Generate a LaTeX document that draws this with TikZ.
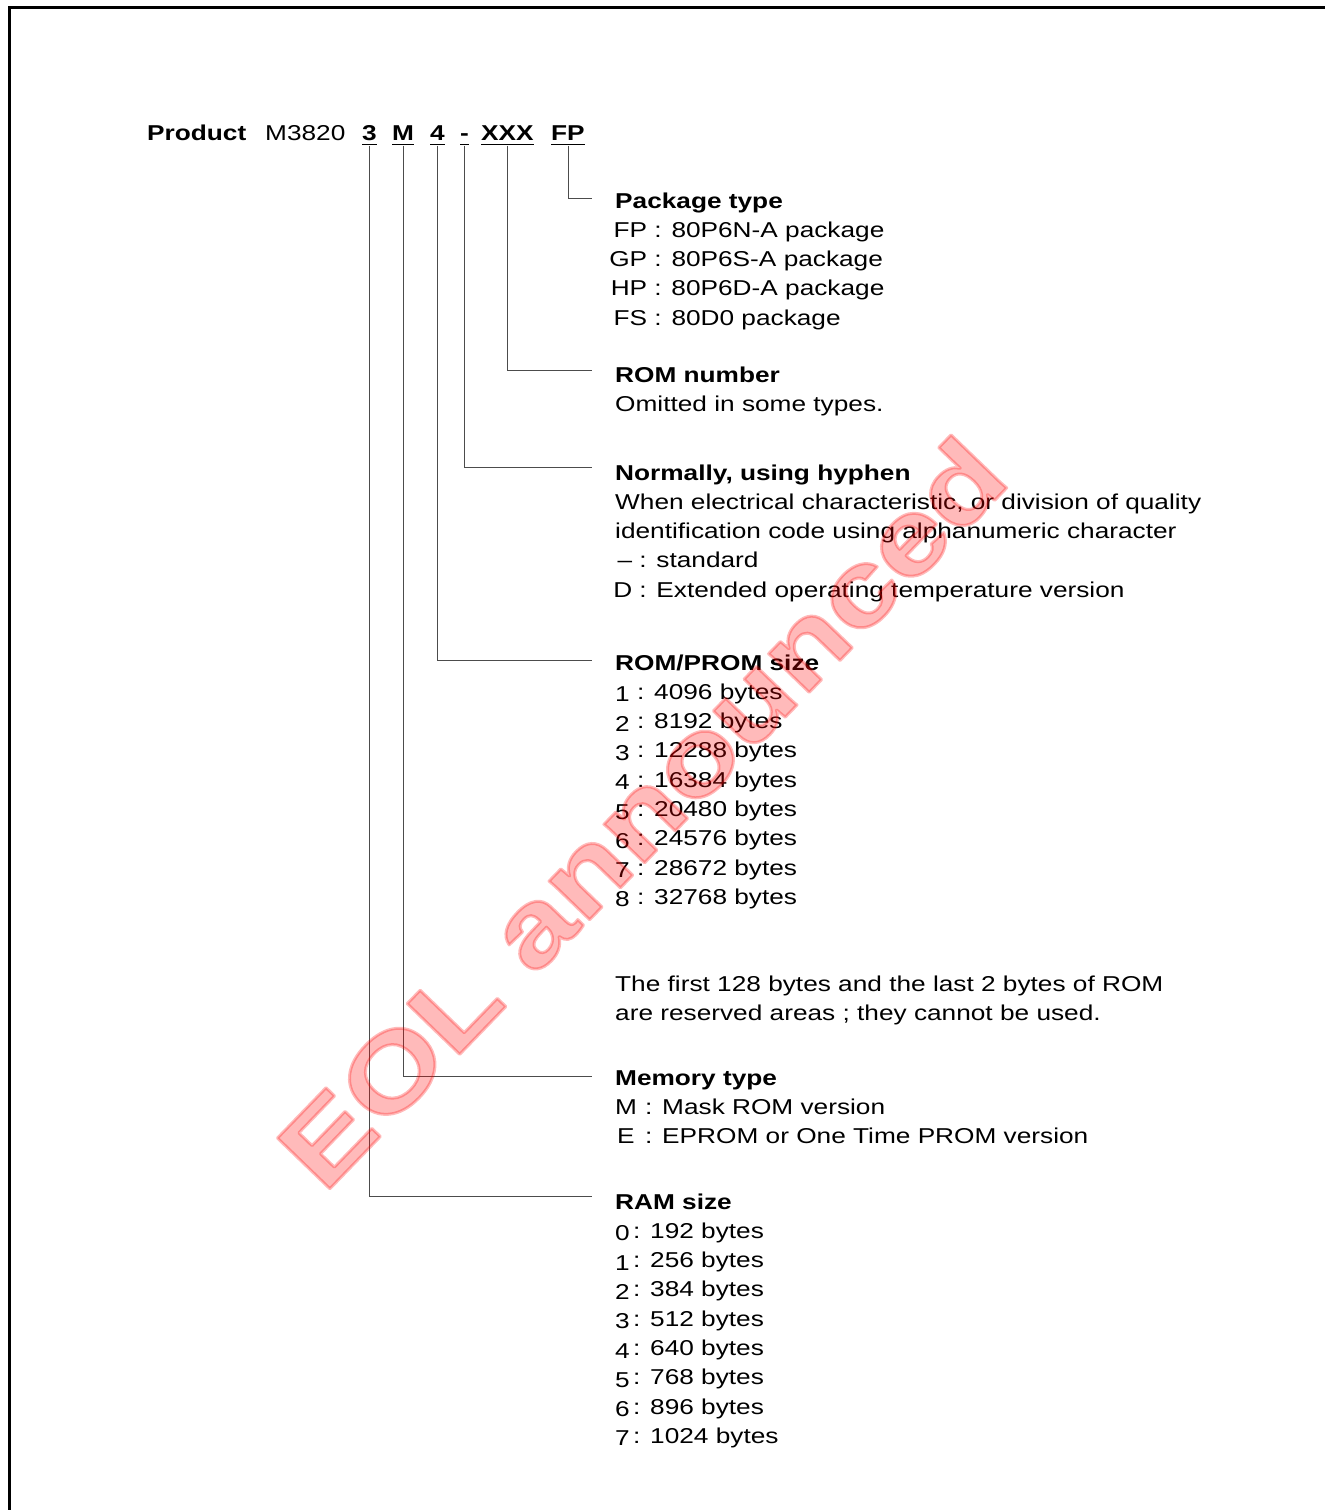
\documentclass[tikz,border=0pt]{standalone}
\usepackage{fontspec}
\setmainfont[FakeStretch=1.22]{Liberation Sans}
\newcommand\mainfnt{\fontsize{21.5}{29.3}\selectfont}
\newcommand\dg[1]{\raisebox{-2.5pt}{#1}}
\begin{document}
\begin{tikzpicture}[x=1pt,y=-1pt,
  txt/.style={inner sep=0pt, anchor=base west, font=\mainfnt},
  codetxt/.style={inner sep=0pt, anchor=base west, font=\mainfnt\bfseries},
  leader/.style={draw=black!70, line width=0.9pt},
  uline/.style={line width=1.8pt},
  frameline/.style={line width=2.5pt}]
\useasboundingbox (0,0) rectangle (1325,1510);

% frame (top and left edges)
\coordinate (fbl) at (9.5,1510);
\coordinate (ftl) at (9.5,7.5);
\coordinate (ftr) at (1325,7.5);
\draw[frameline] (fbl) -- (ftl) -- (ftr);

% header
\node[codetxt] (prod) at (147,140) {Product};
\node[txt] (m3820) at (265,140) {M3820};
\node[codetxt] (c3) at (362,140) {3};
\node[codetxt] (cM) at (392,140) {M};
\node[codetxt] (c4) at (430,140) {4};
\node[codetxt] (cH) at (460,140) {-};
\node[codetxt] (cX) at (481,140) {XXX};
\node[codetxt] (cF) at (551,140) {FP};
\foreach \n in {c3,cM,c4,cH,cX,cF}{
  \draw[uline] ([yshift=-4.5pt]\n.base west) -- ([yshift=-4.5pt]\n.base east);
}

% text blocks
\node[txt] (pkg) at (615,208) {\begin{tabular}[t]{@{}l@{}}
\textbf{Package type}\\
\makebox[32pt][r]{FP} : 80P6N-A package\\
\makebox[32pt][r]{GP} : 80P6S-A package\\
\makebox[32pt][r]{HP} : 80P6D-A package\\
\makebox[32pt][r]{FS} : 80D0 package
\end{tabular}};

\node[txt] (romno) at (615,382) {\begin{tabular}[t]{@{}l@{}}
\textbf{ROM number}\\
Omitted in some types.
\end{tabular}};

\node[txt] (hyph) at (615,480) {\begin{tabular}[t]{@{}l@{}}
\textbf{Normally, using hyphen}\\
When electrical characteristic, or division of quality\\
identification code using alphanumeric character\\
\makebox[17pt][r]{–} : standard\\
\makebox[17pt][r]{D} : Extended operating temperature version
\end{tabular}};

\node[txt] (romsz) at (615,670) {\begin{tabular}[t]{@{}l@{}}
\textbf{ROM/PROM size}\\
\makebox[22pt][l]{\dg{1}}: 4096 bytes\\
\makebox[22pt][l]{\dg{2}}: 8192 bytes\\
\makebox[22pt][l]{\dg{3}}: 12288 bytes\\
\makebox[22pt][l]{\dg{4}}: 16384 bytes\\
\makebox[22pt][l]{\dg{5}}: 20480 bytes\\
\makebox[22pt][l]{\dg{6}}: 24576 bytes\\
\makebox[22pt][l]{\dg{7}}: 28672 bytes\\
\makebox[22pt][l]{\dg{8}}: 32768 bytes
\end{tabular}};

\node[txt] (note) at (615,991) {\begin{tabular}[t]{@{}l@{}}
The first 128 bytes and the last 2 bytes of ROM\\
are reserved areas ; they cannot be used.
\end{tabular}};

\node[txt] (mem) at (615,1085) {\begin{tabular}[t]{@{}l@{}}
\textbf{Memory type}\\
\makebox[30pt][l]{M}: Mask ROM version\\
\makebox[30pt][l]{\hspace{2pt}E}: EPROM or One Time PROM version
\end{tabular}};

\node[txt] (ram) at (615,1209) {\begin{tabular}[t]{@{}l@{}}
\textbf{RAM size}\\
\makebox[18pt][l]{\dg{0}}: 192 bytes\\
\makebox[18pt][l]{\dg{1}}: 256 bytes\\
\makebox[18pt][l]{\dg{2}}: 384 bytes\\
\makebox[18pt][l]{\dg{3}}: 512 bytes\\
\makebox[18pt][l]{\dg{4}}: 640 bytes\\
\makebox[18pt][l]{\dg{5}}: 768 bytes\\
\makebox[18pt][l]{\dg{6}}: 896 bytes\\
\makebox[18pt][l]{\dg{7}}: 1024 bytes
\end{tabular}};

% leader lines
\coordinate (eF) at (592,198);
\coordinate (eX) at (592,370);
\coordinate (eH) at (592,467);
\coordinate (e4) at (592,660);
\coordinate (eM) at (592,1076);
\coordinate (e3) at (592,1196);
\draw[leader] ([yshift=-5.5pt]cF.base) |- (eF);
\draw[leader] ([yshift=-5.5pt]cX.base) |- (eX);
\draw[leader] ([yshift=-5.5pt]cH.base) |- (eH);
\draw[leader] ([yshift=-5.5pt]c4.base) |- (e4);
\draw[leader] ([yshift=-5.5pt]cM.base) |- (eM);
\draw[leader] ([yshift=-5.5pt]c3.base) |- (e3);

% watermark
\node[inner sep=0pt, rotate=46, text=red, text opacity=0.27,
      font=\fontsize{106}{106}\selectfont\bfseries] (wm) at (641,812)
      {\special{pdf:literal direct 2 Tr 3 w 1 j}EOL announced\special{pdf:literal direct 0 Tr 1 w 0 j}};
\end{tikzpicture}
\end{document}
